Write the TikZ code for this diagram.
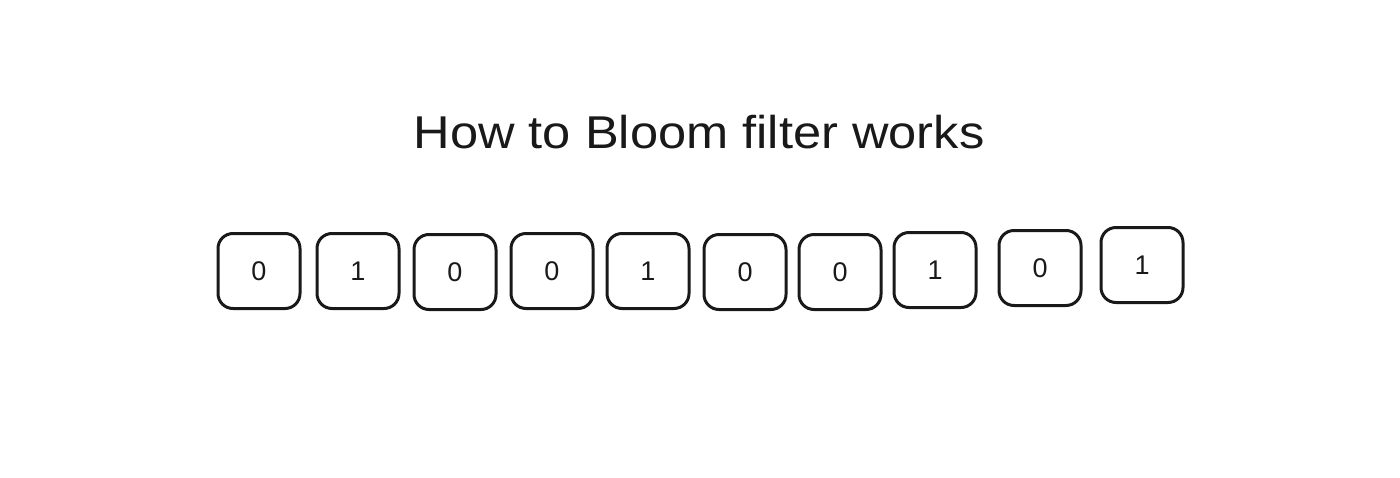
\documentclass[tikz,border=0pt]{standalone}
\usepackage{fontspec}
\setmainfont{Liberation Sans}
\newfontfamily\titlefont[FakeStretch=1.1]{Liberation Sans}
\begin{document}
\begin{tikzpicture}[x=1pt,y=-1pt,
  bit/.style={draw=black!90, line width=3pt, rounded corners=15pt, minimum width=82pt, minimum height=75pt, inner sep=0pt, font=\fontsize{27}{27}\selectfont, text=black!90},
  titletext/.style={font=\titlefont\fontsize{46}{46}\selectfont, text=black!90}]
\useasboundingbox (0,0) rectangle (1400,477);
\node[titletext] (title) at (699,132) {How to Bloom filter works};
\node[bit] (b1) at (259,271) {0};
\node[bit] (b2) at (358,271) {1};
\node[bit] (b3) at (455,272) {0};
\node[bit] (b4) at (552,271) {0};
\node[bit] (b5) at (648,271) {1};
\node[bit] (b6) at (745,272) {0};
\node[bit] (b7) at (840,272) {0};
\node[bit] (b8) at (935,270) {1};
\node[bit] (b9) at (1040,268) {0};
\node[bit] (b10) at (1142,265) {1};
\end{tikzpicture}
\end{document}
